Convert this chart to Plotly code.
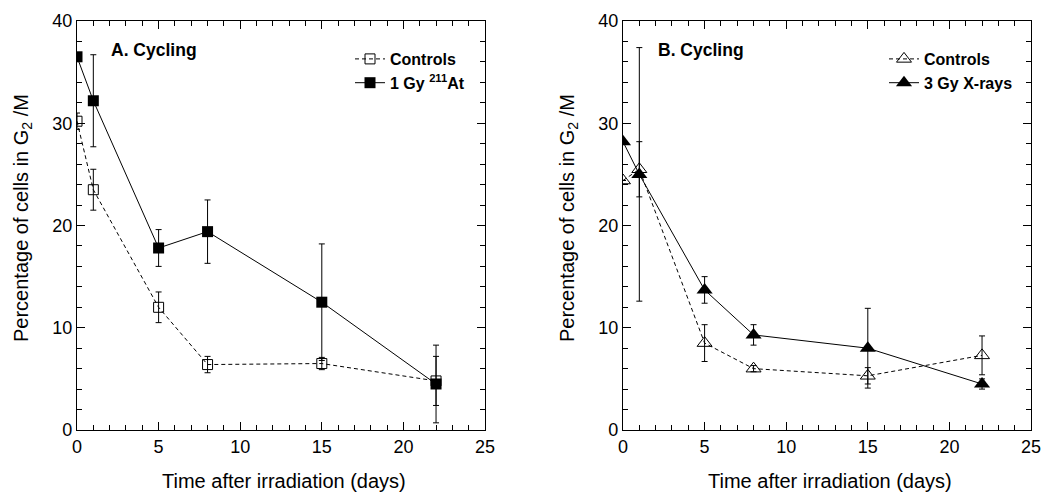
import plotly.graph_objects as go

# ---- data ----
days = [0, 1, 5, 8, 15, 22]

a_ctrl = [30.2, 23.5, 12.0, 6.4, 6.5, 4.8]
a_ctrl_err = [0.8, 2.0, 1.5, 0.8, 0.6, 2.4]
a_at = [36.5, 32.2, 17.8, 19.4, 12.5, 4.5]
a_at_err = [0.0, 4.5, 1.8, 3.1, 5.7, 3.8]

b_ctrl = [24.4, 25.5, 8.5, 6.0, 5.3, 7.3]
b_ctrl_err = [0.0, 2.7, 1.8, 0.3, 0.8, 1.9]
b_xr = [28.2, 25.0, 13.7, 9.3, 8.0, 4.5]
b_xr_err = [0.0, 12.4, 1.3, 1.0, 3.9, 0.5]

FONT = "Liberation Sans, Arial, sans-serif"

fig = go.Figure()

def err(arr):
    return dict(type="data", array=arr, visible=True, color="black", thickness=1, width=3)

fig.add_trace(go.Scatter(x=days, y=a_ctrl, error_y=err(a_ctrl_err), mode="lines+markers",
                         name="Controls", xaxis="x", yaxis="y", legend="legend",
                         line=dict(color="black", width=1, dash="4px,3px"),
                         marker=dict(symbol="square-open", size=10, color="black", line=dict(width=1))))
fig.add_trace(go.Scatter(x=days, y=a_at, error_y=err(a_at_err), mode="lines+markers",
                         name="1 Gy <sup>211</sup>At", xaxis="x", yaxis="y", legend="legend",
                         line=dict(color="black", width=1),
                         marker=dict(symbol="square", size=11, color="black")))
fig.add_trace(go.Scatter(x=days, y=b_ctrl, error_y=err(b_ctrl_err), mode="lines+markers",
                         name="Controls", xaxis="x2", yaxis="y2", legend="legend2",
                         line=dict(color="black", width=1, dash="4px,3px"),
                         marker=dict(symbol="triangle-up-open", size=13, color="black", line=dict(width=1))))
fig.add_trace(go.Scatter(x=days, y=b_xr, error_y=err(b_xr_err), mode="lines+markers",
                         name="3 Gy X-rays", xaxis="x2", yaxis="y2", legend="legend2",
                         line=dict(color="black", width=1),
                         marker=dict(symbol="triangle-up", size=14, color="black")))

W, H = 1042, 495
ML, MR, MT, MB = 77, 11, 21, 65
PW, PH = W - ML - MR, H - MT - MB

def px(xp):
    return (xp - ML) / PW

def py(yp):
    return (H - MB - yp) / PH

ax_common = dict(showline=True, linecolor="black", linewidth=1.3, mirror="allticks",
                 ticks="inside", ticklen=8, tickcolor="black", tickwidth=1.3,
                 gridcolor="rgba(0,0,0,0)", zerolinecolor="black", zerolinewidth=1.3,
                 tickfont=dict(family=FONT, size=18, color="black"))
xminor = dict(dtick=1, ticks="inside", ticklen=5, tickcolor="black")
yminor = dict(dtick=2, ticks="inside", ticklen=5, tickcolor="black")

LEGFONT = dict(family=FONT, size=16, color="black", weight="bold")
fig.update_layout(
    template="none",
    width=W, height=H, margin=dict(l=ML, r=MR, t=MT, b=MB),
    paper_bgcolor="white", plot_bgcolor="white",
    font=dict(family=FONT, color="black"),
    xaxis=dict(domain=[0, px(485)], range=[0, 25], dtick=5, minor=xminor, **ax_common),
    yaxis=dict(range=[0, 40], dtick=10, minor=yminor, **ax_common),
    xaxis2=dict(domain=[px(623), 1], range=[0, 25], dtick=5, minor=xminor, anchor="y2", **ax_common),
    yaxis2=dict(range=[0, 40], dtick=10, minor=yminor, anchor="x2", **ax_common),
    legend=dict(x=px(350), y=py(42), xanchor="left", yanchor="top", bgcolor="rgba(0,0,0,0)",
                font=LEGFONT, tracegroupgap=0, itemwidth=30),
    legend2=dict(x=px(884), y=py(42), xanchor="left", yanchor="top", bgcolor="rgba(0,0,0,0)",
                 font=LEGFONT, tracegroupgap=0, itemwidth=30),
    showlegend=True,
)

ann = []
ann.append(dict(text="<b>A. Cycling</b>", x=px(109), y=py(50), xref="paper", yref="paper",
                xanchor="left", yanchor="middle", showarrow=False, font=dict(family=FONT, size=17.5)))
ann.append(dict(text="<b>B. Cycling</b>", x=px(656), y=py(50), xref="paper", yref="paper",
                xanchor="left", yanchor="middle", showarrow=False, font=dict(family=FONT, size=17.5)))
for cx in (284, 830):
    ann.append(dict(text="Time after irradiation (days)", x=px(cx), y=py(481), xref="paper", yref="paper",
                    xanchor="center", yanchor="middle", showarrow=False, font=dict(family=FONT, size=20)))
for cx in (22, 568):
    ann.append(dict(text="Percentage of cells in G<sub>2</sub> /M", x=px(cx), y=py(218),
                    xref="paper", yref="paper", textangle=-90,
                    xanchor="center", yanchor="middle", showarrow=False, font=dict(family=FONT, size=20)))
fig.update_layout(annotations=ann)

fig.write_html("out.html", config={"displayModeBar": False},
               post_script="document.body.style.margin='0';document.body.style.overflow='hidden';")
